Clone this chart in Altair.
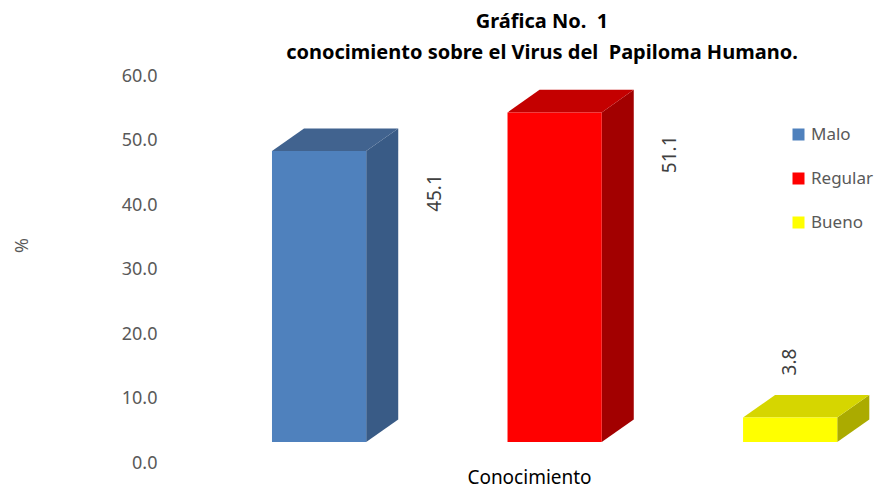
import altair as alt
import pandas as pd

categories = ["Malo", "Regular", "Bueno"]
values = [45.1, 51.1, 3.8]
front_colors = ["#4f81bd", "#ff0000", "#ffff00"]
top_colors = ["#41638f", "#c40000", "#d6d600"]
side_colors = ["#395b86", "#a20000", "#abab00"]
y_ticks = [0, 10, 20, 30, 40, 50, 60]
title_lines = ["Gráfica No.\u00a0 1", "conocimiento sobre el Virus del\u00a0 Papiloma Humano."]

FONT = "Noto Sans"
HW = 0.2     # half width of the front face (x units)
DX = 0.136   # depth offset in x units
DY = 3.5     # depth offset in y units

bars = pd.DataFrame({"cat": categories, "idx": list(range(len(categories))), "value": values})

side_rows = []
top_rows = []
for i, (c, v) in enumerate(zip(categories, values)):
    side_rows.append({"cat": c, "x": i + HW, "lo": 0.0, "hi": v, "fill": side_colors[i]})
    side_rows.append({"cat": c, "x": i + HW + DX, "lo": DY, "hi": v + DY, "fill": side_colors[i]})
    top_rows.append({"cat": c, "x": i - HW, "lo": v, "hi": v, "fill": top_colors[i]})
    top_rows.append({"cat": c, "x": i - HW + DX, "lo": v, "hi": v + DY, "fill": top_colors[i]})
    top_rows.append({"cat": c, "x": i + HW, "lo": v, "hi": v + DY, "fill": top_colors[i]})
    top_rows.append({"cat": c, "x": i + HW + DX, "lo": v + DY, "hi": v + DY, "fill": top_colors[i]})
side_df = pd.DataFrame(side_rows)
top_df = pd.DataFrame(top_rows)

xscale = alt.Scale(domain=[-0.633, 2.339], nice=False, zero=False)
yscale = alt.Scale(domain=[0, 60], nice=False)

yaxis = alt.Axis(values=y_ticks, format=".1f", labelFontSize=18, labelColor="#595959",
                 labelFont=FONT, labelPadding=13, tickSize=0, ticks=False, domain=False,
                 grid=False, labelOffset=21, title="%", titleFontSize=18,
                 titleColor="#595959", titleFont=FONT, titleFontWeight="normal",
                 titleAngle=270, titleX=-148, titleY=190, titleAlign="center",
                 titleBaseline="middle")
xaxis = alt.Axis(title="Conocimiento", labels=False, ticks=False, domain=False, grid=False,
                 titleFontSize=19, titleColor="#000000", titleFont=FONT,
                 titleFontWeight="normal", titleX=359, titleY=35, titleAlign="center",
                 titleBaseline="middle")

side = alt.Chart(side_df).mark_area(opacity=1).encode(
    x=alt.X("x:Q", scale=xscale, axis=xaxis),
    y=alt.Y("hi:Q", scale=yscale, axis=yaxis),
    y2="lo:Q",
    detail="cat:N",
    fill=alt.Fill("fill:N", scale=None),
)

top = alt.Chart(top_df).mark_area(opacity=1).encode(
    x=alt.X("x:Q", scale=xscale, axis=xaxis),
    y=alt.Y("hi:Q", scale=yscale, axis=yaxis),
    y2="lo:Q",
    detail="cat:N",
    fill=alt.Fill("fill:N", scale=None),
)

front = alt.Chart(bars).transform_calculate(
    x1=f"datum.idx - {HW}", x2=f"datum.idx + {HW}", y0="0"
).mark_rect().encode(
    x=alt.X("x1:Q", scale=xscale, axis=xaxis),
    x2="x2:Q",
    y=alt.Y("y0:Q", scale=yscale, axis=yaxis),
    y2="value:Q",
    color=alt.Color("cat:N", scale=alt.Scale(domain=categories, range=front_colors),
                    sort=categories,
                    legend=alt.Legend(title=None, orient="none", legendX=620, legendY=71,
                                      symbolType="square", symbolSize=144,
                                      symbolStrokeWidth=0, labelFontSize=17,
                                      labelColor="#595959", labelFont=FONT,
                                      rowPadding=26, labelOffset=4)),
)

labels = alt.Chart(bars).transform_calculate(
    lx="datum.value > 10 ? datum.idx + 0.49 : datum.idx",
    ly="datum.value > 10 ? datum.value - 6.5 : datum.value + 8.6",
).mark_text(angle=270, fontSize=19, color="#404040", font=FONT,
            align="center", baseline="middle").encode(
    x=alt.X("lx:Q", scale=xscale, axis=xaxis),
    y=alt.Y("ly:Q", scale=yscale, axis=yaxis),
    text=alt.Text("value:Q", format=".1f"),
)

chart = alt.layer(side, top, front, labels).properties(
    width=700, height=387,
    padding={"left": 162, "top": 47, "right": 10, "bottom": 47},
    autosize=alt.AutoSizeParams(type="none"),
    title=alt.TitleParams(title_lines, fontSize=20, fontWeight="bold", font=FONT,
                          color="#000000", anchor="middle", dx=22, offset=-8,
                          lineHeight=31),
).configure_view(stroke=None)

chart.save("out.html", embed_options={"renderer": "svg", "actions": False})
